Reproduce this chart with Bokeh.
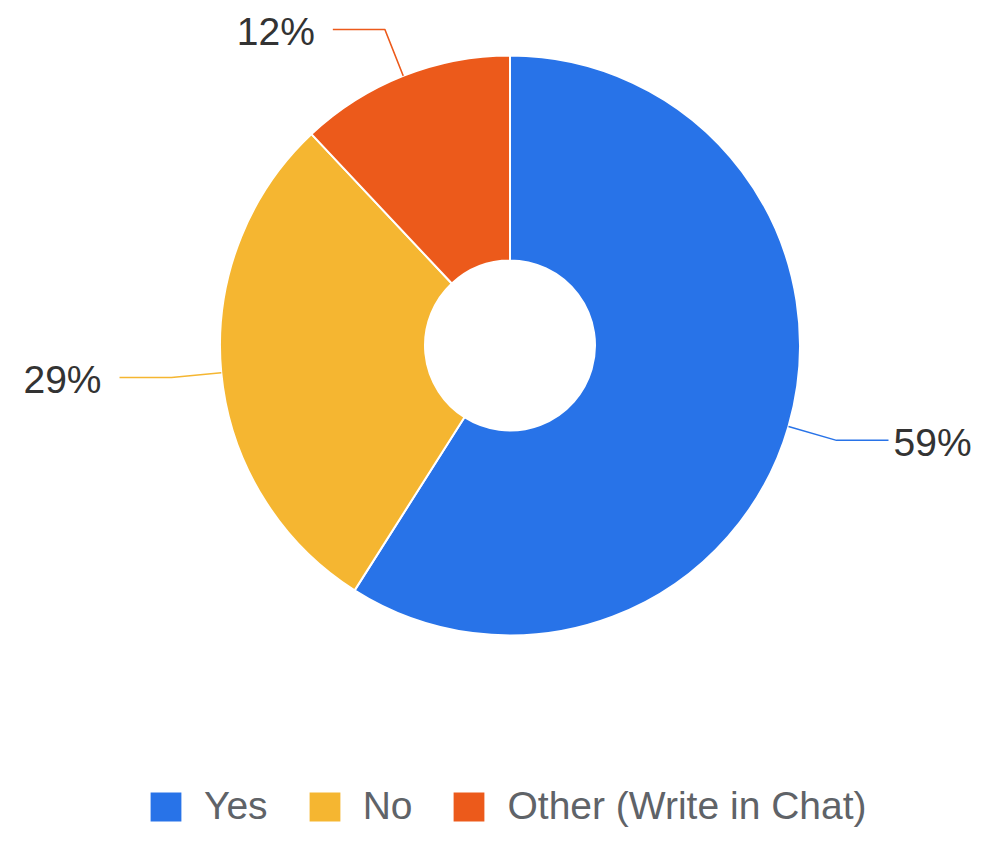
import numpy as np
from bokeh.plotting import figure
from bokeh.models import Range1d, Legend, LegendItem, ColumnDataSource
from bokeh.core.properties import value
from bokeh.embed import file_html
from bokeh.resources import INLINE

categories = ["Yes", "No", "Other (Write in Chat)"]
values = [59, 29, 12]
labels = ["59%", "29%", "12%"]
colors = ["#2873e8", "#f5b631", "#ec5a1b"]

W, H = 973, 830
PAGE_H = 846
FONT = "Liberation Sans"
FS = 39

p = figure(width=W, height=H, output_backend="svg", toolbar_location=None,
           x_range=Range1d(0, W), y_range=Range1d(PAGE_H - H, PAGE_H),
           x_axis_location=None, y_axis_location=None, min_border=0)
p.grid.visible = False
p.outline_line_color = None
p.background_fill_color = "white"

cx, cy = 509.5, PAGE_H - 345
r_out, r_in = 290, 85

vals = np.array(values, dtype=float)
frac = vals / vals.sum()
cum = np.concatenate([[0], np.cumsum(frac)])
start = np.pi / 2 - 2 * np.pi * cum[:-1]
end = np.pi / 2 - 2 * np.pi * cum[1:]

wedges = []
for i in range(len(values)):
    r = p.annular_wedge(x=cx, y=cy, inner_radius=r_in, outer_radius=r_out,
                        start_angle=start[i], end_angle=end[i], direction="clock",
                        fill_color=colors[i], line_color="white", line_width=2)
    wedges.append(r)

# leader lines and labels
mid = (cum[:-1] + cum[1:]) / 2
theta = np.pi / 2 - 2 * np.pi * mid
xs, ys = [], []
tx, ty, align = [], [], []
for i, t in enumerate(theta):
    c, s = np.cos(t), np.sin(t)
    x0, y0 = cx + r_out * c, cy + r_out * s
    x1, y1 = cx + 340 * c, cy + 340 * s
    sgn = 1 if c > 0 else -1
    x2 = x1 + sgn * 52
    xs.append([x0, x1, x2])
    ys.append([y0, y1, y1])
    lx = x2 + sgn * 18
    if sgn > 0:
        lx = min(lx, W - 2.0 * FS - 2)
    tx.append(lx)
    ty.append(y1 - 2)
    align.append("left" if sgn > 0 else "right")

p.multi_line(xs=xs, ys=ys, line_color=colors, line_width=1.5)
lsrc = ColumnDataSource(dict(x=tx, y=ty, text=labels, align=align))
p.text(x="x", y="y", text="text", source=lsrc, text_align="align",
       text_baseline="middle", text_font=value(FONT),
       text_font_size=f"{FS}px", text_color="#333333")

legend = Legend(items=[LegendItem(label=categories[i], renderers=[wedges[i]]) for i in range(len(values))],
                orientation="horizontal", location=(145, 2),
                glyph_width=41, glyph_height=39, label_standoff=18, spacing=36,
                padding=0, margin=0, border_line_alpha=0, background_fill_alpha=0,
                label_text_font=FONT,
                label_text_font_size=f"{FS}px", label_text_color="#5f6368",
                label_text_baseline="middle")
p.add_layout(legend, "center")

open("out.html", "w").write(file_html(p, INLINE))
